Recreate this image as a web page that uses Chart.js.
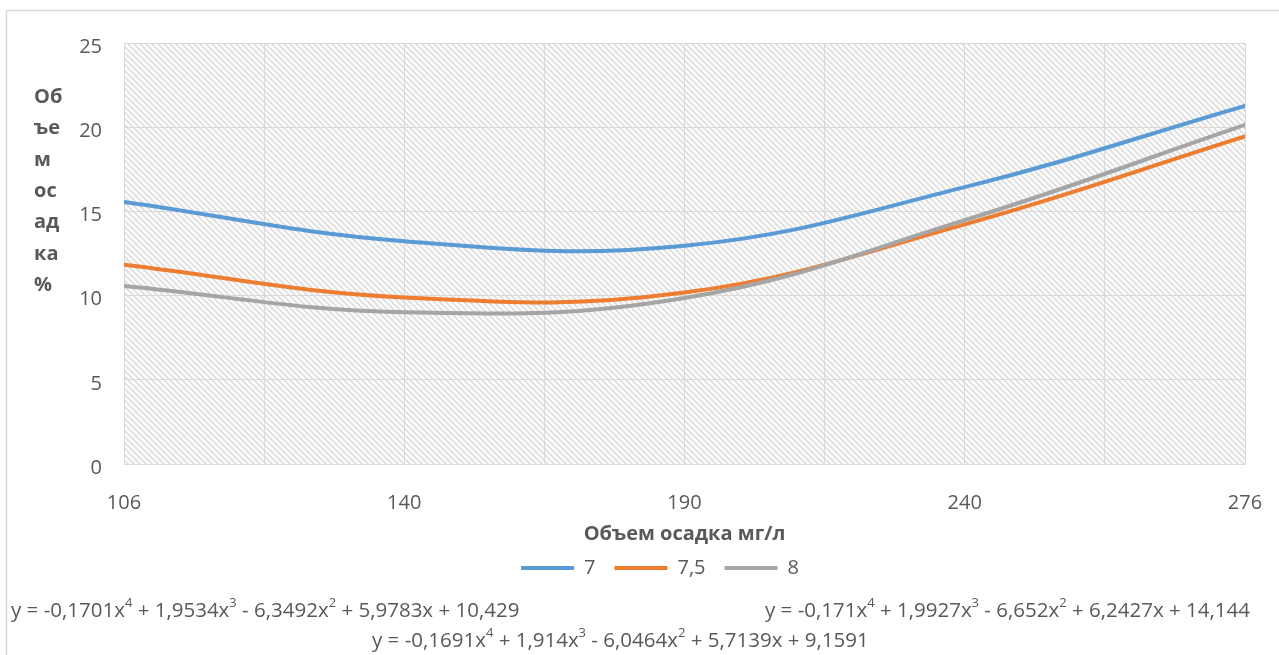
<!DOCTYPE html>
<html>
<head>
<meta charset="utf-8">
<script src="https://cdn.jsdelivr.net/npm/chart.js@4"></script>
<style>
  html, body { margin: 0; padding: 0; background: #ffffff; }
  #wrap { width: 1279px; height: 655px; position: relative; }
</style>
</head>
<body>
<div id="wrap"><canvas id="c" width="1279" height="655"></canvas></div>
<script>
// Sediment volume (%) versus sediment amount (mg/l) for three pH levels
const categories = ['106', '140', '190', '240', '276'];
const seriesNames = ['7', '7,5', '8'];
const values7 = [15.56, 13.23, 12.96, 16.44, 21.27];
const values75 = [11.84, 9.89, 10.18, 14.23, 19.45];
const values8 = [10.57, 9.01, 9.86, 14.48, 20.13];
const yTicks = [0, 5, 10, 15, 20, 25];

// 4th-order polynomial trendline coefficients (x^4 .. x^0)
const trend7 = [-0.171, 1.9927, -6.652, 6.2427, 14.144];
const trend75 = [-0.1701, 1.9534, -6.3492, 5.9783, 10.429];
const trend8 = [-0.1691, 1.914, -6.0464, 5.7139, 9.1591];

const yTitleLines = ['Об', 'ъе', 'м', 'ос', 'ад', 'ка', '%'];
const xTitle = 'Объем осадка мг/л';

const FONT = "'Open Sans', 'Noto Sans', sans-serif";
const TEXT = '#595959';
const GRID = '#d9d9d9';
const COLORS = ['#5B9BD5', '#ED7D31', '#A5A5A5'];

Chart.defaults.font.family = FONT;
Chart.defaults.font.size = 20;
Chart.defaults.color = TEXT;

const toPoints = arr => arr.map((v, i) => ({ x: i, y: v }));

// diagonal hatch tile for the plot background
const hatch = document.createElement('canvas');
hatch.width = 6; hatch.height = 6;
(function () {
  const h = hatch.getContext('2d');
  h.fillStyle = '#ffffff';
  h.fillRect(0, 0, 6, 6);
  h.strokeStyle = '#e1e1e1';
  h.lineWidth = 2;
  h.beginPath();
  for (let k = -1; k <= 1; k++) {
    h.moveTo(k * 6 - 1, -1);
    h.lineTo(k * 6 + 7, 7);
  }
  h.stroke();
})();

const backdrop = {
  id: 'backdrop',
  beforeDraw(chart) {
    const { ctx, chartArea: a } = chart;
    ctx.save();
    ctx.fillStyle = '#ffffff';
    ctx.fillRect(0, 0, chart.width, chart.height);
    ctx.strokeStyle = GRID;
    ctx.lineWidth = 1.5;
    ctx.strokeRect(6.5, 10.5, chart.width + 20, chart.height + 20);
    ctx.fillStyle = ctx.createPattern(hatch, 'repeat');
    ctx.fillRect(a.left, a.top, a.right - a.left, a.bottom - a.top);
    ctx.restore();
  }
};

function fmt(v) { return String(Math.abs(v)).replace('.', ','); }
function sgn(v) { return v < 0 ? ' - ' : ' + '; }
function eqSegments(c) {
  return [
    { t: 'y = ' + (c[0] < 0 ? '-' : '') + fmt(c[0]) + 'x' }, { t: '4', sup: true },
    { t: sgn(c[1]) + fmt(c[1]) + 'x' }, { t: '3', sup: true },
    { t: sgn(c[2]) + fmt(c[2]) + 'x' }, { t: '2', sup: true },
    { t: sgn(c[3]) + fmt(c[3]) + 'x' + sgn(c[4]) + fmt(c[4]) }
  ];
}

const annotations = {
  id: 'annotations',
  afterDraw(chart) {
    const ctx = chart.ctx;
    ctx.save();
    ctx.fillStyle = TEXT;
    // vertical axis caption, wrapped in short rows
    ctx.font = 'bold 20px ' + FONT;
    ctx.textBaseline = 'middle';
    ctx.textAlign = 'left';
    yTitleLines.forEach((s, i) => ctx.fillText(s, 34, 97 + i * 31.4));

    // trendline equations
    ctx.textBaseline = 'alphabetic';
    const drawEq = (coefs, x, y) => {
      eqSegments(coefs).forEach(seg => {
        ctx.font = (seg.sup ? '13px ' : '20.5px ') + FONT;
        ctx.fillText(seg.t, x, seg.sup ? y - 10 : y);
        x += ctx.measureText(seg.t).width;
      });
    };
    drawEq(trend75, 11, 617);
    drawEq(trend7, 765, 617);
    drawEq(trend8, 372, 647);
    ctx.restore();
  }
};

const mkSet = (label, data, color, order) => ({
  label, data: toPoints(data),
  borderColor: color, backgroundColor: color,
  borderWidth: 4, borderCapStyle: 'round',
  pointRadius: 0, pointHoverRadius: 0,
  tension: 0.4, fill: false, order
});

new Chart(document.getElementById('c'), {
  type: 'line',
  data: {
    datasets: [
      mkSet(seriesNames[0], values7, COLORS[0], 3),
      mkSet(seriesNames[1], values75, COLORS[1], 2),
      mkSet(seriesNames[2], values8, COLORS[2], 1)
    ]
  },
  options: {
    responsive: false,
    animation: false,
    devicePixelRatio: 1,
    layout: { padding: { top: 43, right: 34, left: 75, bottom: 67 } },
    scales: {
      x: {
        type: 'linear',
        min: 0, max: categories.length - 1,
        afterBuildTicks(scale) {
          const t = [];
          for (let v = 0; v <= categories.length - 1; v += 0.5) t.push({ value: v });
          scale.ticks = t;
        },
        afterFit(scale) {
          scale.height = 75;
          scale.paddingLeft = 0;
          scale.paddingRight = 0;
        },
        grid: { color: GRID, lineWidth: 1, drawTicks: false },
        border: { color: GRID, width: 1 },
        ticks: {
          padding: 27, maxRotation: 0, autoSkip: false,
          font: { size: 20 }, color: TEXT,
          callback: v => Number.isInteger(v) ? categories[v] : ''
        },
        title: {
          display: true, text: xTitle, color: TEXT,
          font: { size: 20, weight: 'bold' },
          padding: { top: 0, bottom: -7 }
        }
      },
      y: {
        min: yTicks[0], max: yTicks[yTicks.length - 1],
        afterBuildTicks(scale) { scale.ticks = yTicks.map(v => ({ value: v })); },
        afterFit(scale) { scale.width = 49; },
        grid: { color: GRID, lineWidth: 1, drawTicks: false },
        border: { color: GRID, width: 1 },
        ticks: { padding: 22, labelOffset: 4, font: { size: 20 }, color: TEXT }
      }
    },
    plugins: {
      legend: {
        position: 'bottom',
        labels: {
          usePointStyle: true, pointStyle: 'line', pointStyleWidth: 53,
          padding: 19, color: TEXT, font: { size: 20 },
          sort: (a, b) => a.datasetIndex - b.datasetIndex
        }
      },
      tooltip: { enabled: false }
    }
  },
  plugins: [backdrop, annotations]
});
</script>
</body>
</html>
